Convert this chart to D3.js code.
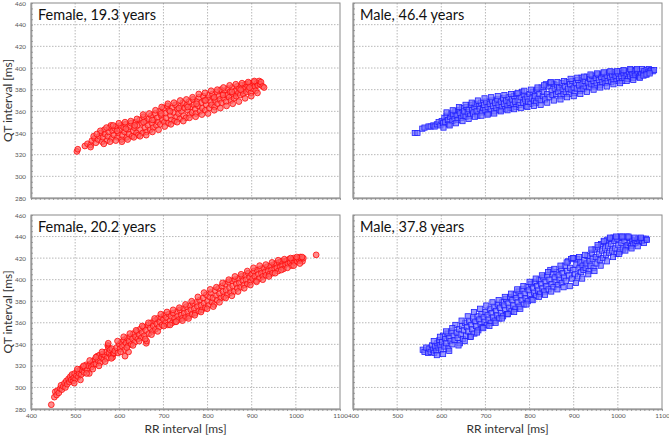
<!DOCTYPE html>
<html><head><meta charset="utf-8">
<script src="https://cdn.jsdelivr.net/npm/d3@7"></script>
<style>body{margin:0;background:#fff}svg{display:block}</style>
</head><body><svg id="c" width="669" height="438"></svg>
<script>
// ---------------- data ----------------
const rrTicks = [400,500,600,700,800,900,1000,1100];
const qtTicks = [280,300,320,340,360,380,400,420,440,460];
const titles = ["Female, 19.3 years","Male, 46.4 years","Female, 20.2 years","Male, 37.8 years"];
const xLabel = "RR interval [ms]";
const yLabel = "QT interval [ms]";

// [RR, QT] pairs
const female193 = [[504,323],[506,325],[522,328],[528,330],[535,329],[538,333],[544,335],[547,331],[552,334],[555,337],[558,340],[561,332],[563,336],[566,343],[568,339],[572,333],[574,337],[576,341],[578,345],[581,347],[583,335],[585,342],[588,338],[590,344],[593,346],[596,336],[598,340],[601,343],[603,347],[605,334],[607,338],[610,345],[612,341],[614,348],[617,336],[619,343],[622,339],[624,346],[627,349],[629,337],[632,342],[634,345],[636,350],[639,340],[641,347],[643,338],[646,352],[648,343],[651,349],[653,340],[655,355],[658,345],[660,351],[662,341],[665,347],[667,353],[670,343],[672,356],[674,349],[677,345],[679,352],[681,358],[684,347],[686,354],[688,350],[691,360],[693,348],[695,356],[698,352],[700,363],[702,350],[704,358],[706,354],[709,365],[711,349],[713,361],[716,356],[718,352],[720,363],[723,359],[725,351],[727,366],[730,355],[732,362],[734,358],[737,353],[739,365],[741,360],[744,368],[746,356],[748,363],[751,354],[753,366],[755,361],[758,369],[760,357],[762,364],[765,359],[767,371],[769,366],[772,362],[774,358],[776,369],[779,365],[781,373],[783,360],[786,368],[788,363],[790,374],[793,370],[795,361],[797,366],[800,372],[802,375],[804,363],[807,369],[809,366],[811,376],[814,372],[816,364],[818,370],[821,378],[823,367],[825,374],[828,371],[830,380],[832,368],[835,376],[837,372],[839,379],[842,369],[844,375],[846,381],[849,373],[851,378],[853,370],[856,382],[858,376],[860,372],[863,379],[865,374],[867,383],[870,377],[872,381],[874,375],[877,384],[879,379],[881,376],[884,382],[886,385],[888,378],[891,383],[893,380],[895,386],[898,377],[900,384],[902,381],[905,387],[907,383],[909,379],[912,386],[914,384],[917,388],[919,385],[921,387],[925,383],[928,382],
[557,342],[565,330],[571,345],[579,332],[586,347],[592,333],[599,349],[606,332],[613,350],[619,334],[626,351],[633,336],[640,353],[647,337],[654,357],[661,338],[668,358],[675,341],[682,361],[689,343],[696,364],[703,346],[710,367],[717,348],[724,368],[731,350],[738,370],[745,351],[752,371],[759,354],[766,373],[773,355],[780,376],[787,357],[794,377],[801,358],[808,379],[815,361],[822,380],[829,363],[836,382],[843,365],[850,384],[857,367],[864,385],[871,369],[878,386],[885,372],[892,387],[899,374],[906,388],[913,377],[535,327],[542,337],[549,339],
[595,342],[615,344],[635,347],[655,350],[675,352],[695,358],[715,360],[735,363],[755,364],[775,367],[795,370],[815,373],[835,375],[855,378],[875,380],[895,382]];

const male464 = [[540,340],[546,340],[557,344],[562,345],[571,346],[576,346],[582,347],[585,346],[590,348],[594,350],[598,347],[601,351],[604,349],[607,354],[609,350],[612,356],[615,352],[617,348],[620,355],[622,358],[625,351],[627,357],[630,353],[632,360],[635,356],[637,352],[640,361],[642,358],[645,354],[647,363],[650,357],[652,360],[655,355],[657,364],[660,359],[662,362],[665,356],[667,366],[670,361],[672,358],[675,364],[677,367],[680,360],[682,356],[685,365],[687,362],[690,368],[692,359],[695,363],[697,366],[700,361],[702,369],[705,364],[707,358],[710,367],[712,362],[715,370],[717,365],[720,360],[722,368],[725,363],[727,371],[730,366],[732,361],[735,369],[737,364],[740,372],[742,367],[745,362],[747,370],[750,365],[752,373],[755,368],[757,363],[760,371],[762,366],[765,374],[767,369],[770,364],[772,376],[775,370],[777,366],[780,373],[783,378],[785,368],[787,375],[790,371],[792,365],[795,373],[797,369],[800,376],[802,367],[805,372],[807,378],[810,370],[812,374],[815,368],[817,380],[820,372],[822,376],[825,370],[827,382],[830,374],[832,378],[835,371],[837,385],[840,376],[842,383],[845,373],[847,386],[850,379],[852,375],[855,385],[857,381],[860,376],[862,384],[865,378],[867,382],[870,374],[872,386],[875,380],[877,376],[880,383],[882,378],[885,387],[887,381],[890,376],[892,385],[895,380],[897,388],[900,382],[902,377],[905,386],[907,381],[910,389],[912,384],[915,379],[917,391],[920,385],[922,381],[925,388],[927,383],[930,392],[932,386],[935,382],[937,390],[940,385],[942,393],[945,388],[947,383],[950,391],[952,386],[955,394],[957,389],[960,384],[962,392],[965,387],[967,395],[970,390],[972,386],[975,393],[977,388],[980,396],[982,391],[985,387],[987,394],[990,389],[992,396],[995,392],[997,388],[1000,395],[1003,390],[1005,397],[1008,392],[1010,388],[1013,395],[1015,391],[1018,397],[1020,393],[1023,390],[1025,396],[1028,392],[1030,398],[1033,394],[1035,391],[1038,397],[1040,393],[1043,398],[1045,395],[1048,392],[1050,397],[1053,394],[1055,399],[1058,395],[1060,397],[1063,394],[1065,398],[1068,396],[1070,399],[1073,397],[1076,398],[1079,397],[1082,398],
[605,345],[612,359],[619,347],[626,361],[633,349],[640,364],[648,351],[655,366],[662,353],[669,368],[676,355],[683,370],[691,356],[698,372],[705,357],[713,373],[720,358],[728,374],[735,360],[743,375],[750,361],[758,376],[765,362],[773,377],[780,363],[788,379],[795,364],[803,380],[810,365],[818,382],[825,366],[833,384],[840,368],[848,387],[855,370],[863,387],[870,371],[878,388],[885,373],[893,390],[900,374],[908,391],[915,376],[923,392],[930,378],[938,394],[945,380],[953,395],[960,382],[968,396],[975,383],[983,397],[990,385],[998,397],[1005,386],[1013,398],[1020,388],[1028,399],[1035,389],[1043,399],[1050,391],[1058,393],[1065,394],[1072,395]];

const female202 = [[446,284],[453,291],[455,296],[458,293],[460,297],[463,295],[466,299],[468,302],[470,298],[473,301],[476,304],[478,300],[480,306],[482,303],[485,308],[487,305],[489,310],[491,307],[493,312],[495,306],[497,309],[499,313],[501,308],[503,311],[505,315],[507,310],[509,313],[512,317],[514,312],[516,316],[518,319],[520,314],[523,318],[525,321],[527,316],[530,320],[532,313],[535,322],[537,319],[540,324],[542,321],[545,326],[547,322],[550,329],[552,325],[555,330],[557,323],[560,328],[562,331],[565,326],[567,330],[570,333],[572,327],[574,339],[575,338],[576,336],[577,332],[579,335],[581,329],[583,336],[585,328],[586,331],[588,332],[590,334],[594,337],[597,332],[600,340],[602,336],[605,342],[607,338],[610,344],[612,335],[613,329],[615,341],[617,346],[620,339],[621,333],[622,343],[625,347],[627,340],[630,345],[632,350],[635,342],[637,347],[640,352],[642,345],[645,349],[647,354],[650,346],[652,351],[655,356],[657,348],[660,353],[661,341],[662,343],[665,358],[667,350],[670,355],[672,360],[675,352],[677,357],[680,362],[682,354],[685,359],[687,364],[690,356],[692,361],[695,365],[697,358],[700,363],[702,367],[705,360],[707,365],[710,358],[712,368],[715,362],[717,366],[720,360],[722,369],[725,364],[727,361],[730,370],[732,366],[735,363],[737,372],[740,367],[742,364],[745,373],[747,369],[750,365],[752,375],[755,370],[757,366],[760,376],[762,372],[765,368],[767,378],[770,373],[772,369],[775,379],[777,375],[780,371],[782,381],[785,376],[787,372],[790,383],[792,378],[795,374],[797,386],[800,380],[802,376],[805,384],[807,388],[810,379],[812,383],[815,377],[817,390],[820,385],[822,381],[825,392],[827,387],[830,383],[832,394],[835,389],[837,384],[840,396],[842,390],[845,386],[847,398],[850,392],[852,388],[855,399],[857,394],[860,389],[862,400],[865,396],[867,392],[870,401],[872,397],[875,393],[877,403],[880,399],[882,395],[885,404],[887,400],[890,396],[892,406],[895,402],[897,398],[900,405],[902,401],[905,408],[907,403],[910,399],[912,409],[915,405],[917,401],[920,410],[922,406],[925,403],[927,411],[930,407],[932,404],[935,412],[937,408],[940,405],[942,413],[945,409],[947,406],[950,414],[952,410],[955,415],[957,411],[960,408],[962,416],[965,412],[967,417],[970,413],[972,410],[975,417],[977,414],[980,418],[982,415],[985,419],[987,416],[990,413],[992,418],[995,420],[997,416],[1000,419],[1003,417],[1005,420],[1008,418],[1010,421],[1012,419],[1015,417],[1017,420],[1046,423],
[498,304],[505,317],[512,307],[519,320],[526,313],[533,325],[540,317],[547,328],[554,320],[561,333],[568,324],[575,341],[582,327],[596,343],[603,333],[610,347],[617,337],[624,350],[631,339],[638,353],[645,343],[652,357],[659,345],[666,360],[673,349],[680,364],[687,352],[694,368],[701,357],[708,370],[715,358],[722,372],[729,361],[736,374],[743,362],[750,377],[757,364],[764,380],[771,367],[778,384],[785,370],[792,388],[799,373],[806,391],[813,375],[820,393],[827,379],[834,397],[841,383],[848,400],[855,385],[862,403],[869,389],[876,405],[883,392],[890,408],[897,395],[904,411],[911,398],[918,413],[925,400],[932,414],[939,403],[946,416],[953,406],[960,418],[967,409],[974,419],[981,411],[988,420],[995,413],[1002,421],[1009,415],[1014,421]];

const male378 = [[558,335],[562,333],[566,337],[570,332],[573,336],[576,333],[579,339],[581,335],[584,332],[586,338],[589,334],[591,341],[594,337],[596,344],[598,339],[600,335],[602,342],[604,348],[607,338],[609,345],[611,341],[614,350],[616,336],[618,346],[621,343],[623,352],[625,340],[628,348],[630,344],[632,358],[635,351],[637,346],[640,354],[642,341],[644,349],[647,357],[649,345],[651,353],[654,360],[656,348],[658,356],[661,352],[663,362],[665,347],[668,358],[670,354],[672,364],[675,350],[677,361],[679,357],[682,366],[684,353],[686,363],[689,359],[691,368],[693,356],[696,365],[698,361],[700,370],[703,358],[705,367],[707,363],[710,373],[712,360],[714,369],[717,365],[719,375],[721,362],[724,371],[726,367],[728,377],[731,364],[733,374],[735,369],[738,379],[740,366],[742,376],[745,372],[747,382],[749,368],[752,378],[754,374],[756,384],[759,371],[761,381],[763,376],[766,386],[768,373],[770,383],[773,379],[775,389],[777,375],[780,385],[782,381],[784,391],[787,377],[789,387],[791,383],[794,393],[796,380],[798,390],[801,386],[803,396],[805,382],[808,392],[810,388],[812,398],[815,385],[817,394],[819,390],[822,400],[824,387],[826,396],[829,392],[831,402],[833,389],[836,398],[838,394],[840,404],[843,391],[845,400],[847,409],[850,396],[852,405],[854,393],[857,402],[859,398],[861,407],[864,395],[866,404],[868,400],[871,410],[873,397],[875,406],[878,402],[880,413],[882,399],[885,408],[887,417],[889,404],[892,411],[894,419],[896,401],[899,409],[901,420],[903,405],[906,414],[908,419],[910,403],[913,411],[915,416],[917,407],[920,413],[922,409],[924,418],[927,411],[929,415],[931,422],[934,408],[936,417],[938,413],[941,425],[943,419],[945,411],[948,428],[950,421],[952,415],[955,430],[957,424],[959,418],[962,433],[964,427],[966,420],[969,435],[971,429],[973,423],[976,437],[978,431],[980,425],[983,438],[985,433],[987,427],[990,439],[992,436],[994,429],[997,424],[999,438],[1001,432],[1004,426],[1006,440],[1008,434],[1011,428],[1013,439],[1015,436],[1018,430],[1020,440],[1022,432],[1025,439],[1027,434],[1030,431],[1032,436],[1035,433],[1038,437],[1040,434],[1043,436],[1046,438],[1049,435],[1052,437],[1055,436],[1058,438],[1061,437],[1064,438],
[583,343],[590,330],[597,347],[604,331],[611,352],[618,334],[625,355],[639,339],[646,362],[653,343],[660,366],[667,347],[674,370],[681,351],[688,373],[695,355],[702,376],[709,357],[716,379],[723,360],[730,381],[737,364],[744,384],[751,368],[758,387],[765,370],[772,391],[779,373],[786,394],[793,377],[800,398],[807,381],[814,401],[821,384],[828,404],[835,386],[842,407],[849,389],[856,410],[863,391],[870,413],[877,393],[884,416],[891,394],[898,420],[905,397],[912,421],[919,401],[926,423],[933,405],[940,428],[947,408],[954,432],[961,413],[968,436],[975,417],[982,439],[989,421],[996,440],[1003,424],[1010,440],[1017,427],[1024,440],[1031,429],[1038,439],[1045,431],[1052,439],[1059,434],[1066,437]];

// ---------------- layout / style ----------------
const layout = [
  {x0:31,  x1:340, y0:3,   y1:198, showX:false, showY:true,  shape:"circle"},
  {x0:353, x1:662, y0:3,   y1:198, showX:false, showY:false, shape:"square"},
  {x0:31,  x1:340, y0:215, y1:409, showX:true,  showY:true,  shape:"circle"},
  {x0:353, x1:662, y0:215, y1:409, showX:true,  showY:false, shape:"square"}
];
const seriesData = [female193, male464, female202, male378];

const svg = d3.select("#c");
const FONT = "Lato, 'Open Sans', sans-serif";

layout.forEach((L, i) => {
  const x = d3.scaleLinear().domain([rrTicks[0], rrTicks[rrTicks.length-1]]).range([L.x0, L.x1]);
  const y = d3.scaleLinear().domain([qtTicks[0], qtTicks[qtTicks.length-1]]).range([L.y1, L.y0]);
  const g = svg.append("g");

  // grid
  g.append("g").selectAll("line").data(rrTicks.slice(1, -1)).join("line")
    .attr("x1", d => x(d)).attr("x2", d => x(d)).attr("y1", L.y0).attr("y2", L.y1)
    .attr("stroke", "#b8b8b8").attr("stroke-width", 1).attr("stroke-dasharray", "1.5,1.5");
  g.append("g").selectAll("line").data(qtTicks.slice(1, -1)).join("line")
    .attr("y1", d => y(d)).attr("y2", d => y(d)).attr("x1", L.x0).attr("x2", L.x1)
    .attr("stroke", "#b8b8b8").attr("stroke-width", 1).attr("stroke-dasharray", "1.5,1.5");

  // border
  g.append("rect").attr("x", L.x0).attr("y", L.y0).attr("width", L.x1 - L.x0).attr("height", L.y1 - L.y0)
    .attr("fill", "none").attr("stroke", "#8a8a8a").attr("stroke-width", 1);

  // points
  const data = seriesData[i];
  const pg = g.append("g");
  if (L.shape === "circle") {
    pg.selectAll("circle").data(data).join("circle")
      .attr("cx", d => x(d[0])).attr("cy", d => y(d[1])).attr("r", 2.9)
      .attr("fill", "rgba(255,95,95,0.72)").attr("stroke", "#ff0a0a").attr("stroke-width", 0.8);
  } else {
    pg.selectAll("rect").data(data).join("rect")
      .attr("x", d => x(d[0]) - 2.6).attr("y", d => y(d[1]) - 2.6).attr("width", 5.2).attr("height", 5.2)
      .attr("fill", "rgba(115,115,255,0.72)").attr("stroke", "#2020ff").attr("stroke-width", 0.8);
  }

  // axes
  const xAxis = d3.axisBottom(x).tickValues(d3.range(400, 1101, 10)).tickSizeInner(2).tickSizeOuter(0).tickPadding(3)
    .tickFormat(d => (L.showX && d % 100 === 0) ? d : "");
  const ax = g.append("g").attr("transform", `translate(0,${L.y1})`).call(xAxis);
  const yAxis = d3.axisLeft(y).tickValues(d3.range(280, 461, 5)).tickSizeInner(-2).tickSizeOuter(0).tickPadding(5)
    .tickFormat(d => (L.showY && d % 20 === 0) ? d : "");
  const ay = g.append("g").attr("transform", `translate(${L.x0},0)`).call(yAxis);
  [ax, ay].forEach(a => {
    a.select(".domain").attr("stroke", "#9a9a9a").attr("stroke-width", 1.6);
    a.selectAll(".tick line").attr("stroke", "#8a8a8a").attr("stroke-width", 0.8);
    a.selectAll(".tick text").attr("fill", "#555").style("font-family", FONT).style("font-size", "6.3px");
  });

  // title
  g.append("text").attr("x", L.x0 + 7).attr("y", L.y0 + 17)
    .style("font-family", FONT).style("font-size", "14.5px").attr("fill", "#111").text(titles[i]);

  if (L.showY) {
    g.append("text").attr("transform", `translate(12,${(L.y0 + L.y1) / 2}) rotate(-90)`)
      .attr("text-anchor", "middle").style("font-family", FONT).style("font-size", "12px")
      .attr("fill", "#333").text(yLabel);
  }
  if (L.showX) {
    g.append("text").attr("x", (L.x0 + L.x1) / 2).attr("y", 433)
      .attr("text-anchor", "middle").style("font-family", FONT).style("font-size", "12px")
      .attr("fill", "#333").text(xLabel);
  }
});
</script>
</body></html>
